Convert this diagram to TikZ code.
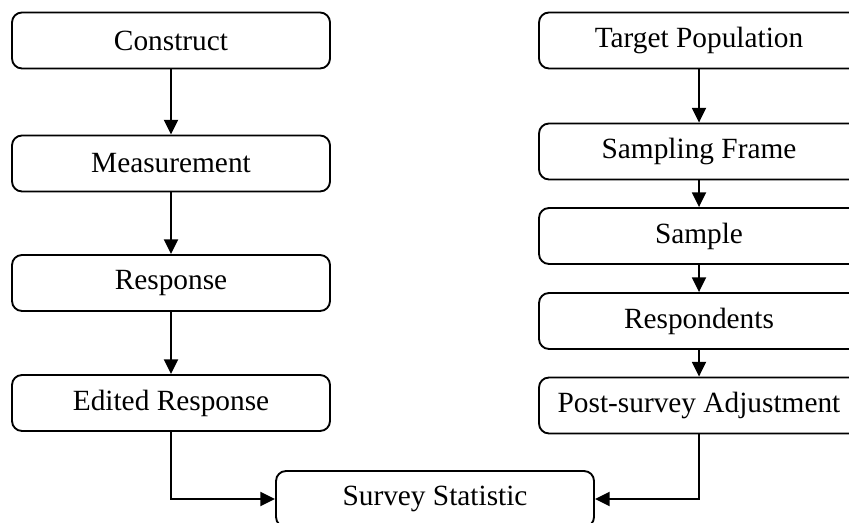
\documentclass[tikz,border=0pt]{standalone}
\usepackage{fontspec}
\setmainfont{Liberation Serif}
\usetikzlibrary{arrows.meta}
\begin{document}
\begin{tikzpicture}[x=0.75pt,y=-0.75pt,
  box/.style={draw,line width=1.4pt,rounded corners=7.5pt,inner sep=0pt,
    minimum height=42pt,font=\fontsize{22}{26}\selectfont},
  lbox/.style={box,minimum width=238.5pt},
  rbox/.style={box,minimum width=240pt},
  arr/.style={line width=1.4pt,-{Triangle[length=11pt,width=10.5pt]}}]
\useasboundingbox (0,0) rectangle (849,523);
\clip (0,0) rectangle (849,523);
\node[lbox] (construct) at (171,40.5) {Construct};
\node[lbox] (measure) at (171,163.5) {Measurement};
\node[lbox] (response) at (171,283) {Response};
\node[lbox] (edited) at (171,403) {Edited Response};
\node[rbox] (target) at (699,40.5) {Target Population};
\node[rbox] (frame) at (699,151.5) {Sampling Frame};
\node[rbox] (sample) at (699,236) {Sample};
\node[rbox] (resp) at (699,321) {Respondents};
\node[rbox] (post) at (699,405.5) {Post-survey Adjustment};
\node[lbox] (stat) at (435,499) {Survey Statistic};
\draw[arr] (construct) -- (measure);
\draw[arr] (measure) -- (response);
\draw[arr] (response) -- (edited);
\draw[arr] (target) -- (frame);
\draw[arr] (frame) -- (sample);
\draw[arr] (sample) -- (resp);
\draw[arr] (resp) -- (post);
\draw[arr] (edited.south) |- (stat.west);
\draw[arr] (post.south) |- (stat.east);
\end{tikzpicture}
\end{document}
